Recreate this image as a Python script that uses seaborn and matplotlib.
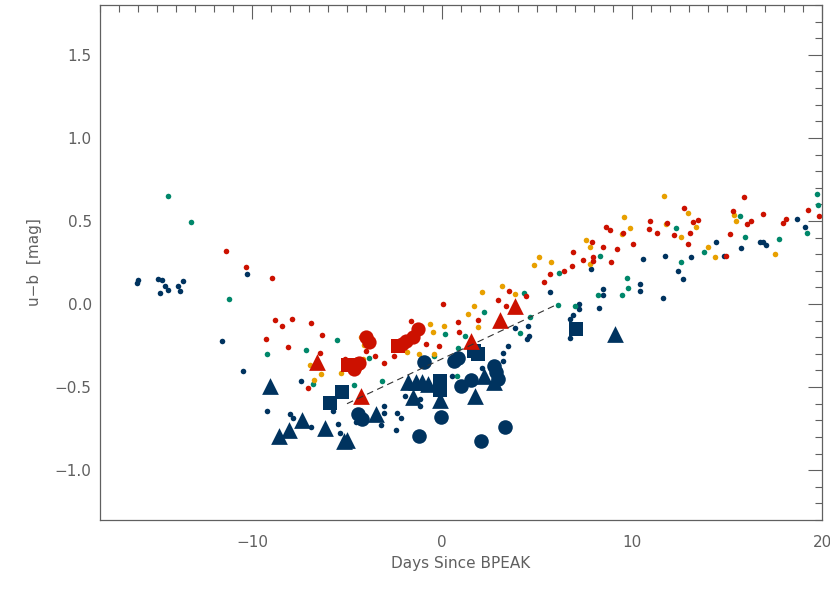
import numpy as np
import pandas as pd
import seaborn as sns
import matplotlib.pyplot as plt
from matplotlib.ticker import MultipleLocator

# small dots, one list pair per colour
navy_x = [-16.05, -15.98, -14.96, -14.75, -14.56, -14.84, -14.44, -13.91, -13.63, -13.77,
          -10.28, -11.6, -10.47, -7.4, -9.19, -8.0, -7.84, -6.88, -5.47, -5.37, -5.75,
          3.46, 3.19, 3.19, 3.84, 4.51, 4.58, 4.49, 5.7, 2.1, 0.53, -1.95, -1.16, -1.16,
          -2.38, -2.16, -3.21, -3.07, -3.07, -2.42, -4.53, -4.26,
          7.86, 8.49, 8.49, 8.25, 7.23, 7.21, 6.88, 6.74, 6.75, 10.4, 10.4, 10.56, 11.75,
          11.65, 12.4, 12.7, 13.11, 14.44, 15.74, 16.72, 16.91, 17.04, 18.68, 19.12, 14.86]
navy_y = [0.127, 0.146, 0.149, 0.146, 0.110, 0.068, 0.083, 0.110, 0.137, 0.077,
          0.183, -0.225, -0.406, -0.466, -0.643, -0.663, -0.685, -0.739, -0.723, -0.777, -0.643,
          -0.255, -0.297, -0.343, -0.143, -0.131, -0.191, -0.211, 0.07, -0.384, -0.436, -0.552, -0.572, -0.612,
          -0.658, -0.689, -0.729, -0.616, -0.657, -0.757, -0.709, -0.713,
          0.209, 0.09, 0.054, -0.022, 0.0, -0.03, -0.066, -0.092, -0.207, 0.122, 0.078, 0.271, 0.289,
          0.034, 0.197, 0.151, 0.285, 0.371, 0.339, 0.371, 0.371, 0.357, 0.51, 0.462, 0.291]

red_x = [-11.35, -10.3, -8.93, -8.79, -8.4, -7.91, -6.91, -6.32, -9.28, -8.12, -6.4, -7.07, -5.09,
         -1.63, 0.03, 0.86, 0.88, 1.89, 2.93, 3.37, 3.51, 4.4, 5.39, 5.7, -0.14, -0.84, -2.54,
         -3.04, -3.51, -4.0, -4.67,
         6.4, 6.84, 6.88, 7.42, 7.88, 7.93, 7.96, 8.49, 8.63, 8.86, 9.19, 9.51, 8.91, 10.05, 10.93,
         10.91, 11.3, 11.84, 12.21, 12.75, 13.19, 13.46, 13.07, 12.93,
         14.95, 15.14, 15.3, 15.88, 16.05, 16.28, 16.91, 17.97, 18.12, 19.26, 19.86]
red_y = [0.321, 0.223, 0.158, -0.094, -0.133, -0.088, -0.114, -0.185, -0.213, -0.261, -0.297, -0.506, -0.333,
         -0.104, 0.0, -0.106, -0.171, -0.096, 0.026, -0.014, 0.076, 0.046, 0.134, 0.181, -0.251, -0.241, -0.311,
         -0.357, -0.311, -0.281, -0.405,
         0.201, 0.227, 0.313, 0.265, 0.373, 0.285, 0.257, 0.345, 0.466, 0.446, 0.333, 0.428, 0.255, 0.363, 0.498,
         0.45, 0.426, 0.486, 0.417, 0.576, 0.494, 0.508, 0.428, 0.361,
         0.291, 0.42, 0.558, 0.643, 0.48, 0.5, 0.54, 0.49, 0.51, 0.566, 0.532]

orange_x = [-6.93, -6.39, -6.75, -5.33, -4.17, -4.41, -0.61, -0.49, 0.09, -0.4, -1.19, -1.84, 1.35,
            1.67, 2.12, 1.91, 3.17, 3.84, 4.86, 5.09, 5.74, -4.26, -4.1,
            7.58, 7.81, 7.77, 9.56, 9.89, 9.47, 11.7, 11.77, 12.96, 12.58, 13.37,
            15.37, 15.49, 17.51, 14.37, 13.98]
orange_y = [-0.369, -0.422, -0.46, -0.418, -0.331, -0.396, -0.122, -0.167, -0.134, -0.301, -0.301, -0.291, -0.06,
            -0.012, 0.074, -0.141, 0.108, 0.062, 0.237, 0.285, 0.255, -0.197, -0.245,
            0.384, 0.343, 0.241, 0.526, 0.458, 0.42, 0.649, 0.48, 0.546, 0.402, 0.462,
            0.538, 0.5, 0.299, 0.285, 0.343]

green_x = [-14.44, -13.19, -11.19, -5.54, -9.23, -7.17, -6.77, -3.84, -3.14, -4.62, 0.16, -0.4, 0.86,
           0.79, 1.19, 2.21, 4.3, 4.65, 4.12,
           6.16, 8.3, 9.75, 9.77, 9.47, 8.19, 12.32, 12.56, 7.0, 6.12,
           15.68, 15.96, 17.72, 19.74, 19.79, 19.21, 13.81]
green_y = [0.652, 0.492, 0.030, -0.219, -0.299, -0.277, -0.484, -0.325, -0.466, -0.488, -0.181, -0.315, -0.267,
           -0.434, -0.191, -0.05, 0.068, -0.08, -0.177,
           0.187, 0.289, 0.155, 0.095, 0.052, 0.054, 0.456, 0.251, -0.014, -0.004,
           0.532, 0.406, 0.39, 0.661, 0.596, 0.43, 0.311]

# big symbols
navy_circ_x = [-0.96, 0.83, 0.65, 1.53, 1.0, 2.72, 2.96, 2.85, -0.05, -1.19, 2.05, 3.32, -4.4, -4.2]
navy_circ_y = [-0.347, -0.327, -0.34, -0.458, -0.492, -0.375, -0.452, -0.41, -0.683, -0.793, -0.827, -0.743, -0.663, -0.69]
navy_tri_x = [-9.07, -8.58, -8.07, -7.38, -6.17, -5.17, -5.0, -1.77, -1.37, -0.75, -1.54, -0.09,
              1.74, 2.23, 2.72, -3.47, 9.12, -1.05]
navy_tri_y = [-0.492, -0.793, -0.757, -0.697, -0.749, -0.827, -0.82, -0.472, -0.472, -0.482, -0.562, -0.576,
              -0.552, -0.432, -0.472, -0.663, -0.181, -0.47]
navy_sq_x = [-5.26, -5.88, -0.09, -0.09, 1.88, 1.7, 7.04]
navy_sq_y = [-0.532, -0.598, -0.462, -0.52, -0.301, -0.285, -0.151]

red_circ_x = [-4.5, -4.65, -4.35, -4.0, -3.85, -1.28, -1.89, -1.54, -2.1]
red_circ_y = [-0.36, -0.39, -0.355, -0.2, -0.23, -0.151, -0.221, -0.2, -0.24]
red_tri_x = [-6.58, -4.26, 1.53, 3.04, 3.84]
red_tri_y = [-0.351, -0.552, -0.221, -0.094, -0.01]
red_sq_x = [-4.96, -2.33]
red_sq_y = [-0.365, -0.251]

fit_x = [-5.0, 6.1]
fit_y = [-0.6, 0.0]

NAVY = "#00335f"
RED = "#cc1100"
ORANGE = "#e8a000"
GREEN = "#00876a"
GREY = "#606060"

sns.set_theme(style="white")
plt.rcParams['font.family'] = ['DejaVu Sans']

fig = plt.figure(figsize=(8.3, 5.93), dpi=100)
ax = fig.add_axes([100 / 830, 1 - 520 / 593, 722 / 830, 515 / 593])

for xs, ys, c in [(navy_x, navy_y, NAVY), (green_x, green_y, GREEN),
                  (orange_x, orange_y, ORANGE), (red_x, red_y, RED)]:
    sns.scatterplot(x=xs, y=ys, color=c, s=16, linewidth=0, ax=ax)

ax.plot(fit_x, fit_y, color="#333333", lw=0.8, ls=(0, (6, 4)))

big = [(navy_circ_x, navy_circ_y, NAVY, "o", 110),
       (navy_tri_x, navy_tri_y, NAVY, "^", 145),
       (navy_sq_x, navy_sq_y, NAVY, "s", 90),
       (red_circ_x, red_circ_y, RED, "o", 105),
       (red_tri_x, red_tri_y, RED, "^", 145),
       (red_sq_x, red_sq_y, RED, "s", 90)]
for xs, ys, c, m, sz in big:
    sns.scatterplot(x=xs, y=ys, color=c, marker=m, s=sz, linewidth=0, ax=ax)

ax.set_xlim(-18, 20)
ax.set_ylim(-1.3, 1.8)
ax.xaxis.set_major_locator(MultipleLocator(10))
ax.xaxis.set_minor_locator(MultipleLocator(1))
ax.yaxis.set_major_locator(MultipleLocator(0.5))
ax.yaxis.set_minor_locator(MultipleLocator(0.1))
ax.tick_params(which="both", direction="in", top=True, right=True, colors=GREY,
               labelsize=11, width=0.8)
ax.tick_params(which="major", length=10)
ax.tick_params(which="minor", length=5)
ax.tick_params(axis="x", which="major", pad=11)
ax.tick_params(axis="y", which="major", pad=6)
ax.set_xticks([-10, 0, 10, 20])
ax.set_xticklabels(["\u221210", "0", "10", "20"])
ax.set_yticks([-1.0, -0.5, 0.0, 0.5, 1.0, 1.5])
ax.set_yticklabels(["\u22121.0", "\u22120.5", "0.0", "0.5", "1.0", "1.5"])
for sp in ax.spines.values():
    sp.set_color(GREY)
    sp.set_linewidth(0.9)

ax.set_xlabel("Days Since BPEAK", color=GREY, fontsize=11, labelpad=4)
ax.set_ylabel("u\u2212b  [mag]", color=GREY, fontsize=11, labelpad=9)

fig.savefig("out.png", dpi=100)
